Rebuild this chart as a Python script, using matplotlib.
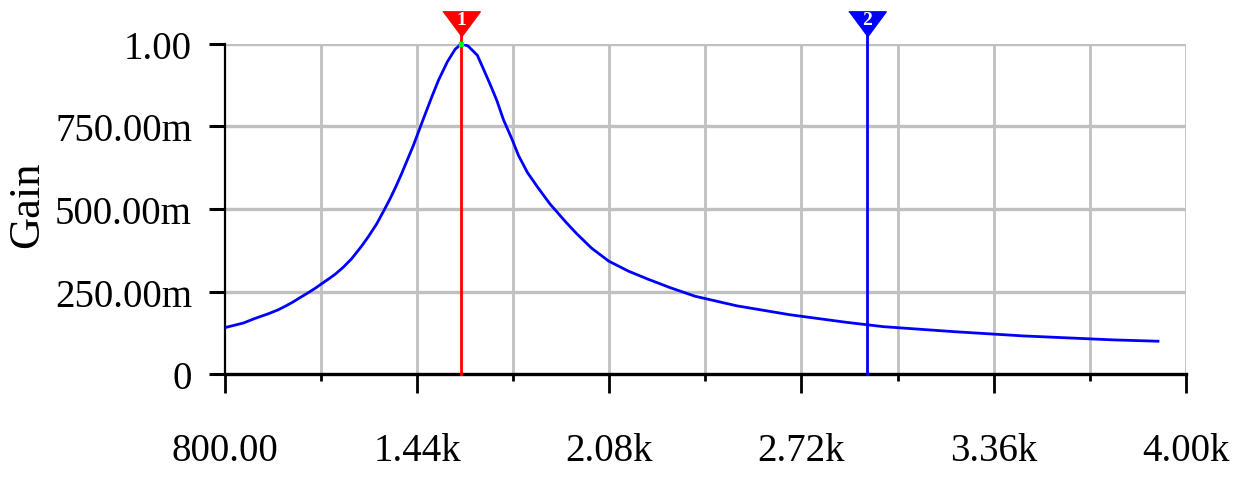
import matplotlib
matplotlib.use('Agg')
import matplotlib.pyplot as plt
from matplotlib.ticker import FixedLocator

# frequency response (Hz, linear gain)
freq = [800, 862, 901, 945, 978, 1004, 1028, 1051, 1075, 1101, 1123, 1147, 1167,
        1195, 1223, 1256, 1278, 1306, 1328, 1350, 1370, 1389, 1411, 1428, 1447,
        1467, 1489, 1511, 1541, 1567, 1588, 1610, 1641, 1663, 1686, 1706, 1728,
        1756, 1778, 1808, 1844, 1883, 1936, 1972, 2022, 2079, 2144, 2211, 2283,
        2366, 2505, 2682, 2871, 2993, 3226, 3459, 3759, 3907]
gain = [0.141, 0.155, 0.169, 0.183, 0.195, 0.207, 0.219, 0.232, 0.245, 0.260,
        0.274, 0.289, 0.302, 0.324, 0.350, 0.388, 0.416, 0.455, 0.492, 0.530,
        0.568, 0.607, 0.655, 0.692, 0.738, 0.786, 0.838, 0.888, 0.945, 0.983,
        1.000, 0.993, 0.965, 0.920, 0.872, 0.828, 0.770, 0.712, 0.662, 0.610,
        0.563, 0.515, 0.460, 0.425, 0.381, 0.342, 0.312, 0.287, 0.262, 0.236,
        0.207, 0.180, 0.157, 0.144, 0.129, 0.116, 0.104, 0.100]

cursor_x = [1588, 2937]
cursor_lbl = ['1', '2']
cursor_col = ['#FF0000', '#0000FF']

xticks = [800, 1440, 2080, 2720, 3360, 4000]
xlabels = ['800.00', '1.44k', '2.08k', '2.72k', '3.36k', '4.00k']
xminor = [1120, 1760, 2400, 3040, 3680]
yticks = [0, 0.25, 0.5, 0.75, 1.0]
ylabels = ['0', '250.00m', '500.00m', '750.00m', '1.00']

FONT = ['Liberation Serif', 'DejaVu Serif']
GRID = '#C0C0C0'

fig = plt.figure(figsize=(12.36, 4.81), dpi=100)
ax = fig.add_axes([0.1818, 0.2198, 0.7777, 0.6873])
ax.set_xlim(800, 4000)
ax.set_ylim(0, 1.0)

# grid (majors + minors on x)
for v in yticks[1:]:
    ax.axhline(v, color=GRID, lw=2.4, zorder=0)
for v in xticks[1:] + xminor:
    ax.axvline(v, color=GRID, lw=2.0, zorder=0)

ax.plot(freq, gain, color='#0000FF', lw=2.0, zorder=3)

# cursors
for cx, lb, c in zip(cursor_x, cursor_lbl, cursor_col):
    ax.plot([cx, cx], [0, 1.04], color=c, lw=2.0, zorder=4, clip_on=False)
    ax.plot([cx], [1.061], marker=[(-0.74, 0.5), (0.74, 0.5), (0, -0.5)],
            ms=27, color=c, mec=c, clip_on=False, zorder=5)
    ax.text(cx, 1.072, lb, color='white', ha='center', va='center',
            fontsize=14, fontweight='bold', family=FONT, clip_on=False, zorder=6)
ax.plot([cursor_x[0]], [max(gain)], 's', color='#00FF00', ms=2.5, zorder=6,
        clip_on=False)

for s in ['top', 'right']:
    ax.spines[s].set_visible(False)
ax.spines['left'].set_linewidth(1.6)
ax.spines['bottom'].set_linewidth(2.4)

ax.xaxis.set_major_locator(FixedLocator(xticks))
ax.xaxis.set_minor_locator(FixedLocator(xminor))
ax.set_xticklabels(xlabels)
ax.set_yticks(yticks)
ax.set_yticklabels(ylabels)
ax.tick_params(axis='x', which='major', length=13.7, width=2, pad=28,
               labelsize=28, direction='out')
ax.tick_params(axis='x', which='minor', length=5, width=2, direction='out')
ax.tick_params(axis='y', which='major', length=11.5, width=2.2, pad=12,
               labelsize=28, direction='out')
for t in ax.get_xticklabels() + ax.get_yticklabels():
    t.set_family(FONT)

ax.set_ylabel('Gain', fontsize=32, family=FONT)
ax.yaxis.set_label_coords(-0.185, 0.515)

fig.savefig('out.png', dpi=100)
